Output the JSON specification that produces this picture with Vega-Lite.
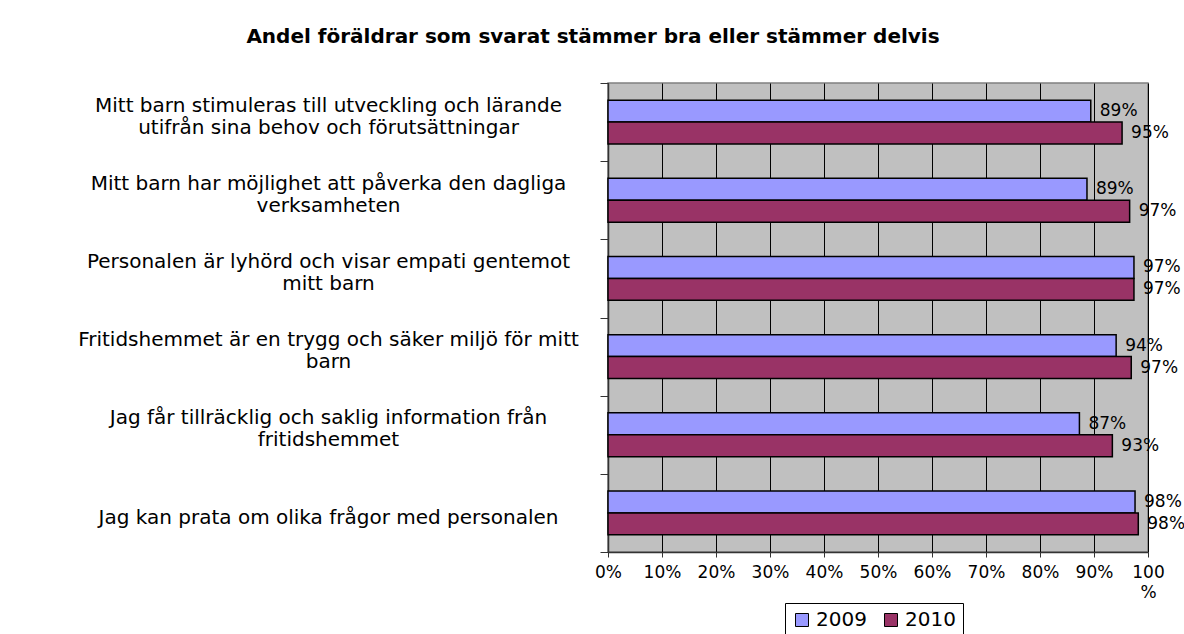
{
  "$schema": "https://vega.github.io/schema/vega-lite/v6.json",
  "width": 540,
  "height": 469,
  "autosize": "none",
  "padding": {"left": 608, "top": 83, "right": 36, "bottom": 82},
  "background": "white",
  "title": {
    "text": "Andel föräldrar som svarat stämmer bra eller stämmer delvis",
    "font": "DejaVu Sans",
    "fontSize": 20,
    "fontWeight": "bold",
    "color": "black",
    "anchor": "middle",
    "frame": "group",
    "dx": -285,
    "offset": 26
  },
  "data": {
    "values": [
      {"fraga": "Mitt barn stimuleras till utveckling och lärande\nutifrån sina behov och förutsättningar", "ar": "2009", "andel": 0.894},
      {"fraga": "Mitt barn stimuleras till utveckling och lärande\nutifrån sina behov och förutsättningar", "ar": "2010", "andel": 0.952},
      {"fraga": "Mitt barn har möjlighet att påverka den dagliga\nverksamheten", "ar": "2009", "andel": 0.887},
      {"fraga": "Mitt barn har möjlighet att påverka den dagliga\nverksamheten", "ar": "2010", "andel": 0.966},
      {"fraga": "Personalen är lyhörd och visar empati gentemot\nmitt barn", "ar": "2009", "andel": 0.974},
      {"fraga": "Personalen är lyhörd och visar empati gentemot\nmitt barn", "ar": "2010", "andel": 0.974},
      {"fraga": "Fritidshemmet är en trygg och säker miljö för mitt\nbarn", "ar": "2009", "andel": 0.941},
      {"fraga": "Fritidshemmet är en trygg och säker miljö för mitt\nbarn", "ar": "2010", "andel": 0.969},
      {"fraga": "Jag får tillräcklig och saklig information från\nfritidshemmet", "ar": "2009", "andel": 0.873},
      {"fraga": "Jag får tillräcklig och saklig information från\nfritidshemmet", "ar": "2010", "andel": 0.934},
      {"fraga": "Jag kan prata om olika frågor med personalen", "ar": "2009", "andel": 0.976},
      {"fraga": "Jag kan prata om olika frågor med personalen", "ar": "2010", "andel": 0.982}
    ]
  },
  "encoding": {
    "y": {
      "field": "fraga",
      "type": "nominal",
      "sort": null,
      "title": null,
      "scale": {"paddingInner": 0, "paddingOuter": 0},
      "axis": {
        "tickBand": "extent",
        "tickSize": 8,
        "tickColor": "#333333",
        "domainColor": "#333333",
        "domainWidth": 1.5,
        "grid": false,
        "labelFont": "DejaVu Sans",
        "labelFontSize": 20,
        "labelColor": "black",
        "labelAlign": "center",
        "labelBaseline": "middle",
        "labelLineHeight": 22,
        "labelLimit": 0,
        "labelOffset": -17,
        "labelPadding": 272,
        "labelExpr": "indexof(datum.label, '\\n') >= 0 ? split(datum.label, '\\n') : ['', datum.label]"
      }
    },
    "yOffset": {
      "field": "ar",
      "type": "nominal",
      "scale": {"paddingInner": 0, "paddingOuter": 0.78}
    },
    "x": {
      "field": "andel",
      "type": "quantitative",
      "title": null,
      "scale": {"domain": [0, 1], "nice": false},
      "axis": {
        "values": [0, 0.1, 0.2, 0.3, 0.4, 0.5, 0.6, 0.7, 0.8, 0.9, 1],
        "labelExpr": "datum.value > 0.99 ? ['100', '%'] : format(datum.value, '.0%')",
        "labelFont": "DejaVu Sans",
        "labelFontSize": 17,
        "labelLineHeight": 20,
        "labelColor": "black",
        "labelBaseline": "top",
        "labelFlush": false,
        "labelOverlap": false,
        "labelPadding": 7,
        "tickSize": 5,
        "tickColor": "#333333",
        "domainColor": "#333333",
        "domainWidth": 1.5,
        "grid": true,
        "gridColor": "black",
        "gridWidth": 1,
        "gridOpacity": 1
      }
    }
  },
  "layer": [
    {
      "mark": {"type": "bar", "stroke": "black", "strokeWidth": 1.5},
      "encoding": {
        "color": {
          "field": "ar",
          "type": "nominal",
          "scale": {"domain": ["2009", "2010"], "range": ["#9999FF", "#993366"]},
          "legend": {
            "orient": "none",
            "legendX": 177,
            "legendY": 520,
            "direction": "horizontal",
            "title": null,
            "strokeColor": "black",
            "padding": 7,
            "symbolType": "square",
            "symbolSize": 169,
            "symbolStrokeColor": "black",
            "symbolStrokeWidth": 1,
            "labelFont": "DejaVu Sans",
            "labelFontSize": 20,
            "labelColor": "black",
            "columnPadding": 14
          }
        }
      }
    },
    {
      "mark": {"type": "text", "align": "left", "baseline": "middle", "dx": 9, "font": "DejaVu Sans", "fontSize": 17, "color": "black"},
      "encoding": {
        "text": {"field": "andel", "type": "quantitative", "format": ".0%"}
      }
    }
  ],
  "config": {
    "view": {"fill": "#C0C0C0", "stroke": "#808080", "strokeWidth": 1.5}
  }
}
